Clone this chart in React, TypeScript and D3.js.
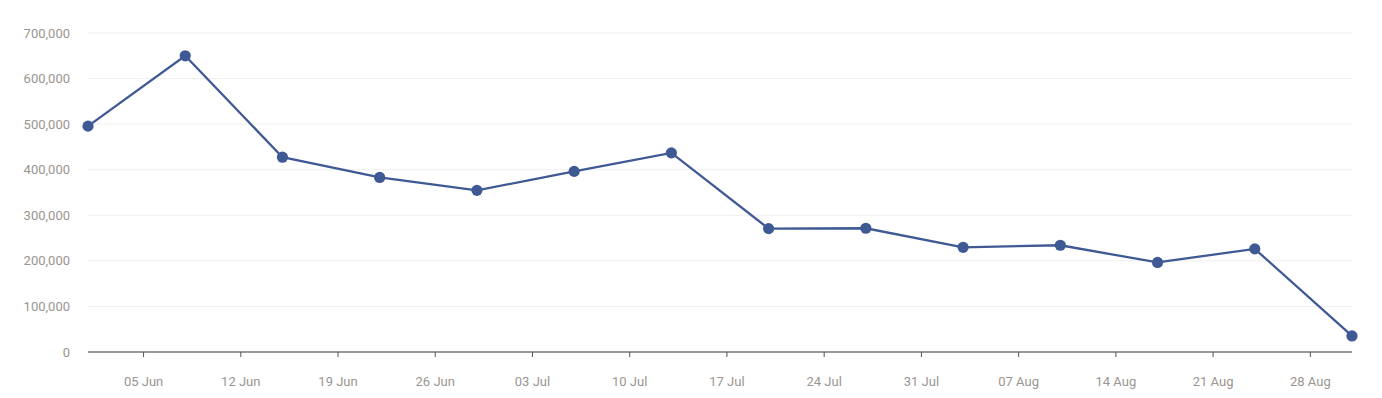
import React from "react";
import * as d3 from "d3";

const dates: string[] = [
  "2023-06-01", "2023-06-08", "2023-06-15", "2023-06-22", "2023-06-29",
  "2023-07-06", "2023-07-13", "2023-07-20", "2023-07-27", "2023-08-03",
  "2023-08-10", "2023-08-17", "2023-08-24", "2023-08-31",
];
const values: number[] = [
  495600, 650000, 427500, 383000, 354700, 396300, 437000,
  270800, 271500, 229800, 234200, 196500, 226300, 35200,
];
const yTicks: number[] = [0, 100000, 200000, 300000, 400000, 500000, 600000, 700000];

const W = 1382;
const H = 398;
const margin = { left: 88, right: 30, top: 33, bottom: 46 };

export default function App() {
  const parse = d3.timeParse("%Y-%m-%d");
  const data = dates.map((d, i) => ({ date: parse(d) as Date, value: values[i] }));
  const x = d3
    .scaleTime()
    .domain(d3.extent(data, (d) => d.date) as [Date, Date])
    .range([margin.left, W - margin.right]);
  const y = d3.scaleLinear().domain([0, 700000]).range([H - margin.bottom, margin.top]);
  const line = d3
    .line<{ date: Date; value: number }>()
    .x((d) => x(d.date))
    .y((d) => y(d.value));
  const xTicks = d3.timeMonday.range(x.domain()[0], x.domain()[1]);
  const fmtX = d3.timeFormat("%d %b");
  const fmtY = d3.format(",");
  const font = "Roboto, 'Noto Sans', sans-serif";
  const y0 = y(0);

  return (
    <svg
      width={W}
      height={H}
      style={{ position: "absolute", left: 0, top: 0, background: "#fff" }}
    >
      {yTicks.map((t) => (
        <g key={t}>
          {t !== 0 && (
            <line
              x1={margin.left}
              x2={W - margin.right}
              y1={y(t)}
              y2={y(t)}
              stroke="#efefef"
              strokeWidth={1}
            />
          )}
          <text
            x={70}
            y={y(t)}
            dy="0.35em"
            textAnchor="end"
            fontFamily={font}
            fontSize={13}
            fill="#9a9590"
          >
            {fmtY(t)}
          </text>
        </g>
      ))}
      <line
        x1={margin.left}
        x2={W - margin.right}
        y1={y0}
        y2={y0}
        stroke="#777"
        strokeWidth={1.5}
      />
      {xTicks.map((t) => (
        <g key={+t}>
          <line x1={x(t)} x2={x(t)} y1={y0} y2={y0 + 5} stroke="#555" strokeWidth={1} />
          <text
            x={x(t)}
            y={y0 + 29}
            dy="0.35em"
            textAnchor="middle"
            fontFamily={font}
            fontSize={13}
            fill="#9a9590"
          >
            {fmtX(t)}
          </text>
        </g>
      ))}
      <path d={line(data) || ""} fill="none" stroke="#3f5995" strokeWidth={2.3} />
      {data.map((d, i) => (
        <circle key={i} cx={x(d.date)} cy={y(d.value)} r={5.6} fill="#3f5995" />
      ))}
    </svg>
  );
}
